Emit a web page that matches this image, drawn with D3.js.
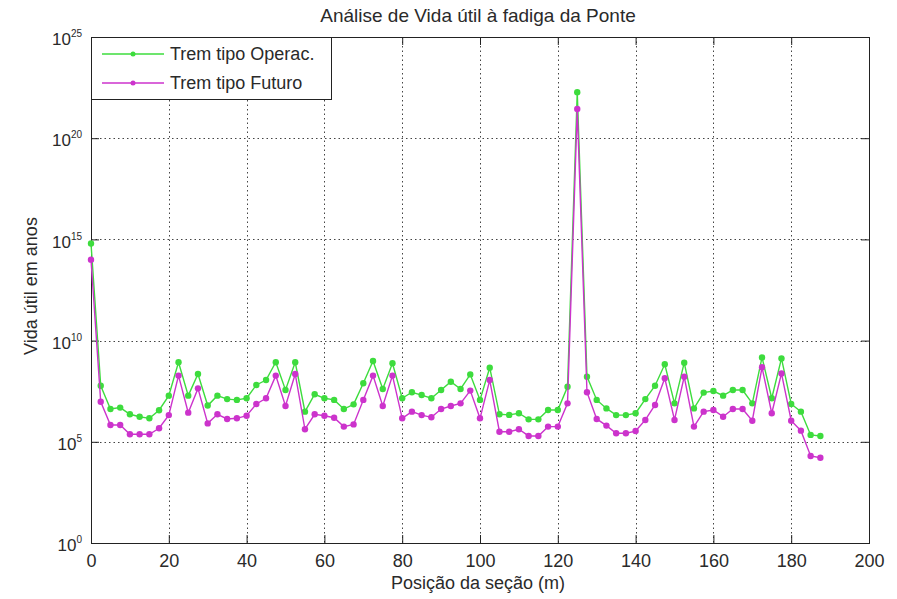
<!DOCTYPE html>
<html>
<head>
<meta charset="utf-8">
<script src="https://cdn.jsdelivr.net/npm/d3@7"></script>
<style>
	body { margin: 0; background: #fff; }
	text { font-family: "Liberation Sans", Arial, sans-serif; fill: #2a2a2a; }
</style>
</head>
<body>
<div id="chart"></div>
<script>
// posição da seção (m)
var posicao = [0, 2.5, 5, 7.5, 10, 12.5, 15, 17.5, 20, 22.5, 25, 27.5, 30, 32.5, 35, 37.5,
	40, 42.5, 45, 47.5, 50, 52.5, 55, 57.5, 60, 62.5, 65, 67.5, 70, 72.5, 75, 77.5,
	80, 82.5, 85, 87.5, 90, 92.5, 95, 97.5, 100, 102.5, 105, 107.5, 110, 112.5, 115, 117.5,
	120, 122.5, 125, 127.5, 130, 132.5, 135, 137.5, 140, 142.5, 145, 147.5, 150, 152.5,
	155, 157.5, 160, 162.5, 165, 167.5, 170, 172.5, 175, 177.5, 180, 182.5, 185, 187.5];

// vida útil, expoente (log10 dos anos)
var operacLog10 = [14.8, 7.77, 6.62, 6.69, 6.36, 6.24, 6.16, 6.56, 7.28, 8.93, 7.28, 8.35, 6.79, 7.28, 7.11, 7.07,
	7.15, 7.81, 8.05, 8.93, 7.56, 8.93, 6.49, 7.35, 7.15, 7.07, 6.62, 6.85, 7.89, 8.99, 7.61, 8.88,
	7.15, 7.45, 7.31, 7.15, 7.56, 7.97, 7.61, 8.33, 7.07, 8.66, 6.36, 6.33, 6.41, 6.11, 6.11, 6.57,
	6.57, 7.72, 22.27, 8.22, 7.07, 6.65, 6.32, 6.32, 6.41, 7.11, 7.77, 8.83, 6.90, 8.91,
	6.65, 7.43, 7.51, 7.28, 7.56, 7.56, 6.90, 9.17, 7.15, 9.12, 6.87, 6.49, 5.34, 5.29];

var futuroLog10 = [14.0, 6.98, 5.83, 5.83, 5.37, 5.37, 5.37, 5.67, 6.32, 8.27, 6.44, 7.64, 5.91, 6.36, 6.13, 6.16,
	6.29, 6.87, 7.15, 8.27, 6.77, 8.35, 5.62, 6.36, 6.29, 6.19, 5.75, 5.86, 7.07, 8.27, 6.77, 8.27,
	6.16, 6.49, 6.32, 6.21, 6.62, 6.77, 6.90, 7.53, 6.16, 8.05, 5.50, 5.50, 5.62, 5.29, 5.29, 5.75,
	5.75, 6.90, 21.44, 7.45, 6.13, 5.80, 5.42, 5.42, 5.53, 6.08, 6.82, 8.14, 6.08, 8.22,
	5.75, 6.49, 6.57, 6.24, 6.62, 6.62, 6.04, 8.68, 6.41, 8.38, 6.04, 5.55, 4.30, 4.21];

var seriesNames = ["Trem tipo Operac.", "Trem tipo Futuro"];
var xTicks = [0, 20, 40, 60, 80, 100, 120, 140, 160, 180, 200];
var yTicks = [1e0, 1e5, 1e10, 1e15, 1e20, 1e25];

(function() {
	var width = 897,
		height = 599;

	var left = 91, right = 869, top = 37, bottom = 543;
	var cores = ["#3ddc3d", "#cc33cc"];

	var svg = d3.select("#chart")
		.append("svg")
		.attr("width", width)
		.attr("height", height);

	svg.append("rect")
		.attr("width", width)
		.attr("height", height)
		.attr("fill", "#fff");

	var x = d3.scaleLinear()
		.domain([0, 200])
		.range([left, right]);

	var y = d3.scaleLog()
		.domain([1, 1e25])
		.range([bottom, top]);

	// grade pontilhada
	var grid = svg.append("g")
		.attr("stroke", "#444")
		.attr("stroke-width", 1)
		.attr("stroke-dasharray", "1.5,3");

	grid.selectAll(".gx")
		.data(xTicks.slice(1, -1))
		.enter().append("line")
		.attr("x1", function(d){ return Math.round(x(d)) + 0.5 })
		.attr("x2", function(d){ return Math.round(x(d)) + 0.5 })
		.attr("y1", top)
		.attr("y2", bottom);

	grid.selectAll(".gy")
		.data(yTicks.slice(1, -1))
		.enter().append("line")
		.attr("y1", function(d){ return Math.round(y(d)) + 0.5 })
		.attr("y2", function(d){ return Math.round(y(d)) + 0.5 })
		.attr("x1", left)
		.attr("x2", right);

	// eixos com marcas para dentro
	var xAxis = svg.append("g")
		.attr("transform", "translate(0," + bottom + ")")
		.call(d3.axisBottom(x).tickValues(xTicks).tickSizeInner(-8).tickSizeOuter(0).tickPadding(11));

	svg.append("g")
		.attr("transform", "translate(0," + top + ")")
		.call(d3.axisTop(x).tickValues(xTicks).tickSizeInner(-8).tickSizeOuter(0).tickFormat(""));

	var yAxis = svg.append("g")
		.attr("transform", "translate(" + left + ",0)")
		.call(d3.axisLeft(y).tickValues(yTicks).tickSizeInner(-8).tickSizeOuter(0).tickPadding(9));

	svg.append("g")
		.attr("transform", "translate(" + right + ",0)")
		.call(d3.axisRight(y).tickValues(yTicks).tickSizeInner(-8).tickSizeOuter(0).tickFormat(""));

	svg.selectAll(".domain").remove();
	svg.selectAll(".tick line").attr("stroke", "#222");

	xAxis.selectAll("text")
		.attr("font-size", 18)
		.attr("fill", "#2a2a2a");

	yAxis.selectAll(".tick text")
		.attr("font-size", 17)
		.attr("fill", "#2a2a2a")
		.attr("dy", "0.45em")
		.each(function(d){
			var t = d3.select(this);
			t.text(null);
			t.append("tspan").text("10");
			t.append("tspan")
				.attr("dy", "-0.8em")
				.attr("font-size", 10)
				.text(Math.round(Math.log10(d)));
		});

	// caixa do gráfico
	svg.append("rect")
		.attr("x", left + 0.5)
		.attr("y", top + 0.5)
		.attr("width", right - left)
		.attr("height", bottom - top)
		.attr("fill", "none")
		.attr("stroke", "#222")
		.attr("stroke-width", 1);

	// séries
	var series = [operacLog10, futuroLog10].map(function(vals, i){
		return {
			name: seriesNames[i],
			color: cores[i],
			values: vals.map(function(v, j){ return { pos: posicao[j], vida: Math.pow(10, v) } })
		}
	});

	var line = d3.line()
		.x(function(d){ return x(d.pos) })
		.y(function(d){ return y(d.vida) });

	var serie = svg.selectAll(".serie")
		.data(series)
		.enter().append("g")
		.attr("class", "serie");

	serie.append("path")
		.attr("d", function(d){ return line(d.values) })
		.attr("fill", "none")
		.attr("stroke", function(d){ return d.color })
		.attr("stroke-width", 1.4);

	serie.selectAll("circle")
		.data(function(d){ return d.values.map(function(v){ return { v: v, color: d.color } }) })
		.enter().append("circle")
		.attr("cx", function(d){ return x(d.v.pos) })
		.attr("cy", function(d){ return y(d.v.vida) })
		.attr("r", 3.2)
		.attr("fill", function(d){ return d.color });

	// legenda
	var legend = svg.append("g");

	legend.append("rect")
		.attr("x", left + 0.5)
		.attr("y", top + 0.5)
		.attr("width", 240)
		.attr("height", 62)
		.attr("fill", "#fff")
		.attr("stroke", "#222");

	var item = legend.selectAll(".item")
		.data(series)
		.enter().append("g")
		.attr("transform", function(d, i){ return "translate(0," + (54 + i * 29) + ")" });

	item.append("line")
		.attr("x1", 102)
		.attr("x2", 164)
		.attr("stroke", function(d){ return d.color })
		.attr("stroke-width", 1.4);

	item.append("circle")
		.attr("cx", 133)
		.attr("r", 2.5)
		.attr("fill", function(d){ return d.color });

	item.append("text")
		.attr("x", 170)
		.attr("dy", "0.36em")
		.attr("font-size", 18)
		.text(function(d){ return d.name });

	// títulos
	svg.append("text")
		.attr("x", (left + right) / 2 - 2)
		.attr("y", 22)
		.attr("text-anchor", "middle")
		.attr("font-size", 19)
		.text("Análise de Vida útil à fadiga da Ponte");

	svg.append("text")
		.attr("x", (left + right) / 2 - 2)
		.attr("y", 589)
		.attr("text-anchor", "middle")
		.attr("font-size", 18)
		.text("Posição da seção (m)");

	svg.append("text")
		.attr("transform", "translate(37," + ((top + bottom) / 2 - 4) + ") rotate(-90)")
		.attr("text-anchor", "middle")
		.attr("font-size", 18)
		.text("Vida útil em anos");

})();
</script>
</body>
</html>
